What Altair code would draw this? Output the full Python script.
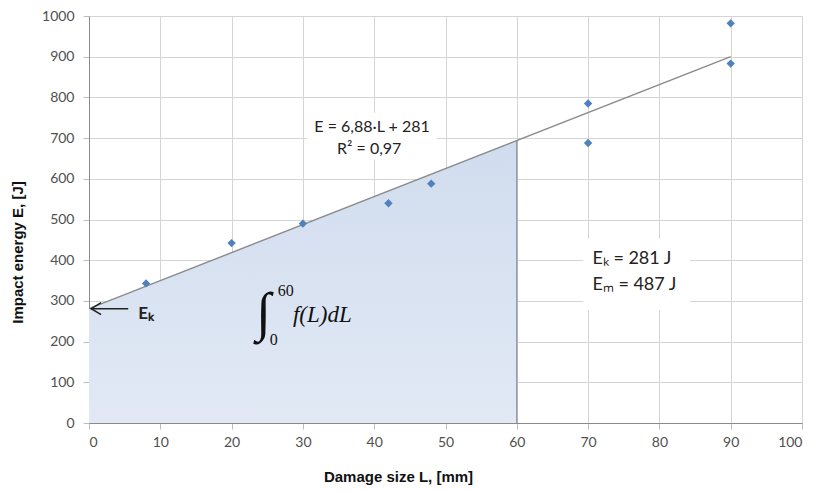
import altair as alt
import pandas as pd

# ---- data ----
L_pts = [8, 20, 30, 42, 48, 70, 70, 90, 90]
E_pts = [343, 442, 490, 540, 588, 785, 688, 982, 883]

slope = 6.88
intercept = 281
fit_L = [0, 90]
area_L = [0, 60]

x_ticks = list(range(0, 101, 10))
y_ticks = list(range(0, 1001, 100))

# annotation anchors (data coordinates)
eq_text = ["E = 6,88·L + 281", "R² = 0,97"]
eq_x = [39.7, 39.3]
eq_y = [728, 674]
eq_box = {"x": 30.6, "x2": 48.8, "y": 645, "y2": 762}

ek_text = ["Eₖ = 281 J", "Eₘ = 487 J"]
ek_x = [70.6, 70.6]
ek_y = [404, 338]
ek_box = {"x": 69.3, "x2": 84.3, "y": 277, "y2": 453}

arrow_L = [0.3, 5.5]
arrow_E = [281, 281]
ek_label = {"x": 6.9, "y": 268, "text": "Eₖ"}

int_sign = {"x": 24.5, "y": 268, "text": "∫"}
int_hi = {"x": 27.6, "y": 324, "text": "60"}
int_lo = {"x": 25.9, "y": 203, "text": "0"}
int_body = {"x": 28.6, "y": 265, "text": "f(L)dL"}

# ---- tables ----
pts = pd.DataFrame({"L": L_pts, "E": E_pts})
fit = pd.DataFrame({"L": fit_L, "E": [slope * v + intercept for v in fit_L]})
area = pd.DataFrame({"L": area_L, "E": [slope * v + intercept for v in area_L], "zero": [0, 0]})
edge = pd.DataFrame({"L": [area_L[1]], "E": [slope * area_L[1] + intercept], "zero": [0]})
eq = pd.DataFrame({"x": eq_x, "y": eq_y, "t": eq_text})
ek = pd.DataFrame({"x": ek_x, "y": ek_y, "t": ek_text})
boxes = pd.DataFrame([eq_box, ek_box])
arrow = pd.DataFrame({"L": arrow_L, "E": arrow_E})

xscale = alt.Scale(domain=[0, 100], nice=False, zero=True)
yscale = alt.Scale(domain=[0, 1000], nice=False, zero=True)

X = alt.X(
    "L:Q",
    scale=xscale,
    axis=alt.Axis(
        values=x_ticks,
        format="d",
        title="Damage size L, [mm]",
        titleX=309,
        titleY=61,
        titleAlign="center",
        titleBaseline="bottom",
    ),
)
Y = alt.Y(
    "E:Q",
    scale=yscale,
    axis=alt.Axis(
        values=y_ticks,
        format="d",
        title="Impact energy E, [J]",
        titleX=-72,
        titleY=236,
        titleAngle=270,
        titleAlign="center",
        titleBaseline="middle",
    ),
)

base_box = alt.Chart(boxes).mark_rect(color="white").encode(
    x=alt.X("x:Q", scale=xscale), x2="x2:Q",
    y=alt.Y("y:Q", scale=yscale), y2="y2:Q",
)

area_layer = alt.Chart(area).mark_area(
    color=alt.Gradient(
        gradient="linear",
        stops=[
            alt.GradientStop(color="#d0dcee", offset=0),
            alt.GradientStop(color="#e2e9f5", offset=1),
        ],
        x1=1, x2=1, y1=0, y2=1,
    ),
    opacity=1,
).encode(x=X, y=Y, y2=alt.Y2("zero:Q"))

edge_layer = alt.Chart(edge).mark_rule(color="#8d9ab0", strokeWidth=1.5).encode(
    x="L:Q", y="E:Q", y2="zero:Q"
)

fit_layer = alt.Chart(fit).mark_line(color="#8a8a8a", strokeWidth=1.4).encode(x="L:Q", y="E:Q")

pts_layer = alt.Chart(pts).mark_point(
    shape="diamond", filled=True, size=70, color="#4F81BD", opacity=1
).encode(x="L:Q", y="E:Q")

eq_layer = alt.Chart(eq).mark_text(
    font="Lato", fontSize=16, color="#222222", align="center", baseline="middle"
).encode(x="x:Q", y="y:Q", text="t:N")

ek_layer = alt.Chart(ek).mark_text(
    font="Lato", fontSize=18, color="#222222", align="left", baseline="middle"
).encode(x="x:Q", y="y:Q", text="t:N")

arrow_line = alt.Chart(arrow).mark_line(color="#222222", strokeWidth=1.5).encode(x="L:Q", y="E:Q")
arrow_head = alt.Chart(arrow.iloc[[0]]).mark_point(
    shape="M1,-0.6L0,0L1,0.6", filled=False, size=400, color="#222222", strokeWidth=1.5, opacity=1
).encode(x="L:Q", y="E:Q")


def txt(d, **kw):
    return alt.Chart(pd.DataFrame([d])).mark_text(**kw).encode(x="x:Q", y="y:Q", text="text:N")


ek_lbl = txt(ek_label, font="Lato", fontSize=17, fontWeight="bold", color="#222222",
             align="left", baseline="middle")
int_s = txt(int_sign, font="DejaVu Sans", fontSize=54, fontWeight=300, color="#111111",
            align="center", baseline="middle")
int_h = txt(int_hi, font="Liberation Serif", fontSize=16, color="#111111",
            align="center", baseline="middle")
int_l = txt(int_lo, font="Liberation Serif", fontSize=16, color="#111111",
            align="center", baseline="middle")
int_b = txt(int_body, font="Liberation Serif", fontSize=23, fontStyle="italic", color="#111111",
            align="left", baseline="middle")

chart = (
    alt.layer(
        area_layer, edge_layer, base_box, fit_layer, pts_layer,
        eq_layer, ek_layer, arrow_line, arrow_head, ek_lbl, int_s, int_h, int_l, int_b,
    )
    .properties(
        width=713,
        height=407,
        autosize=alt.AutoSizeParams(type="none"),
        padding={"left": 81, "top": 8, "right": 4, "bottom": 62},
    )
    .configure_view(stroke=None)
    .configure_axis(
        grid=True,
        gridColor="#d4d4d4",
        gridWidth=1,
        domainColor="#8a8a8a",
        domainWidth=1,
        tickColor="#bdbdbd",
        tickSize=6,
        labelFont="Lato",
        labelFontSize=14,
        labelColor="#505050",
        titleFont="Liberation Sans",
        titleFontSize=15,
        titleFontWeight="bold",
        titleColor="#111111",
    )
    .configure_axisX(labelPadding=6)
    .configure_axisY(labelPadding=9)
)

chart.save("out.html", embed_options={"renderer": "svg", "actions": False})
